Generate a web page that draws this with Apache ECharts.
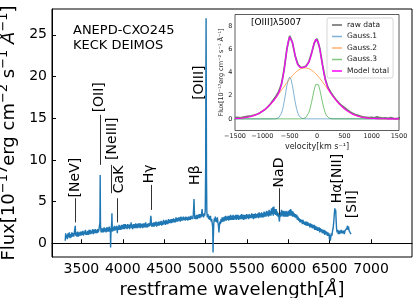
<!DOCTYPE html>
<html><head><meta charset="utf-8">
<script src="https://cdn.jsdelivr.net/npm/echarts@6/dist/echarts.min.js"></script>
<style>html,body{margin:0;padding:0;background:#fff}#c{width:416px;height:298px}</style>
</head><body><div id="c"></div>
<script>
// ---------- main spectrum (restframe wavelength [Å], flux) ----------
const spectrum = [[3305,0.3],[3310,1.2],[3316,0.6],[3322,1.0],[3330,0.5],[3338,1.2],[3346,0.7],[3355,1.3],[3363,0.6],[3370,1.1],[3378,0.7],[3385,1.3],[3393,0.8],[3400,1.2],[3408,0.8],[3415,1.3],[3421,1.1],[3426,2.1],[3431,0.9],[3438,1.3],[3446,0.8],[3455,1.4],[3465,0.8],[3473,1.3],[3480,0.9],[3488,1.4],[3495,0.9],[3503,1.4],[3510,1.0],[3518,1.5],[3525,0.9],[3533,1.4],[3540,1.1],[3548,1.6],[3555,1.0],[3563,1.4],[3570,1.0],[3578,1.5],[3585,1.0],[3593,1.6],[3600,1.1],[3608,1.6],[3615,1.1],[3623,1.5],[3630,1.2],[3638,1.7],[3645,1.1],[3653,1.6],[3660,1.2],[3668,1.7],[3675,1.2],[3683,1.6],[3690,1.2],[3698,1.7],[3705,1.3],[3712,1.6],[3718,1.4],[3724,2.5],[3727,8.2],[3731,2.2],[3738,1.3],[3745,1.8],[3752,1.3],[3760,1.8],[3767,1.3],[3775,1.9],[3782,1.4],[3790,1.8],[3797,1.3],[3805,1.9],[3812,1.4],[3820,1.9],[3828,1.4],[3838,2.0],[3845,1.4],[3850,1.8],[3853,-0.5],[3857,1.2],[3863,2.0],[3867,2.6],[3869,3.6],[3872,2.2],[3876,1.4],[3883,1.9],[3890,1.5],[3898,2.1],[3905,1.5],[3912,2.0],[3920,1.6],[3927,2.1],[3934,1.2],[3940,2.0],[3948,1.6],[3955,2.2],[3962,1.6],[3970,2.1],[3977,1.6],[3985,2.2],[3992,1.7],[4000,2.2],[4008,1.7],[4015,2.3],[4023,1.7],[4030,2.3],[4038,1.8],[4045,2.2],[4053,1.7],[4060,2.3],[4068,1.8],[4075,2.2],[4083,1.7],[4090,2.3],[4096,1.9],[4101,2.5],[4106,1.8],[4112,2.2],[4120,1.7],[4127,2.3],[4135,1.8],[4142,2.3],[4150,1.8],[4157,2.4],[4165,1.8],[4172,2.3],[4180,1.8],[4187,2.4],[4195,1.9],[4202,2.4],[4210,1.8],[4217,2.4],[4225,1.9],[4232,2.3],[4240,1.8],[4247,2.4],[4255,1.9],[4262,2.4],[4270,1.9],[4277,2.5],[4285,1.9],[4292,2.3],[4300,1.9],[4307,2.4],[4315,2.0],[4322,2.4],[4330,2.1],[4335,2.8],[4340,3.3],[4345,2.6],[4350,2.0],[4358,2.4],[4365,2.0],[4373,2.5],[4380,2.0],[4388,2.5],[4395,2.1],[4403,2.6],[4410,2.0],[4418,2.5],[4425,2.1],[4433,2.6],[4440,2.1],[4448,2.6],[4455,2.2],[4463,2.7],[4470,2.1],[4478,2.6],[4485,2.2],[4493,2.8],[4500,2.3],[4508,2.7],[4515,2.2],[4523,2.8],[4530,2.3],[4538,2.7],[4545,2.3],[4553,2.9],[4560,2.4],[4568,2.8],[4575,2.4],[4583,2.9],[4590,2.4],[4598,2.9],[4605,2.5],[4613,3.0],[4620,2.5],[4628,2.9],[4635,2.5],[4643,3.1],[4650,2.6],[4658,3.0],[4665,2.6],[4673,3.1],[4680,2.7],[4688,3.1],[4695,2.6],[4703,3.2],[4710,2.7],[4718,3.1],[4725,2.7],[4733,3.2],[4740,2.8],[4748,3.1],[4755,2.7],[4763,3.2],[4770,2.8],[4778,3.1],[4785,2.7],[4793,3.2],[4800,2.8],[4808,3.2],[4815,2.8],[4823,3.3],[4830,2.9],[4838,3.2],[4845,2.9],[4852,3.4],[4857,4.3],[4861,5.3],[4865,4.0],[4870,2.9],[4878,3.3],[4885,2.9],[4893,3.4],[4900,2.9],[4908,3.4],[4915,3.0],[4923,3.5],[4930,3.0],[4938,3.5],[4945,3.1],[4952,3.5],[4959,4.1],[4964,3.2],[4970,3.5],[4977,3.1],[4984,3.6],[4990,3.3],[4997,3.9],[5002,9.5],[5005,22],[5007,27.0],[5009,20],[5012,8.0],[5016,3.8],[5022,3.1],[5030,3.5],[5038,2.9],[5045,3.3],[5053,2.8],[5060,3.3],[5068,2.6],[5075,2.9],[5082,2.3],[5087,1.9],[5091,-1.1],[5095,0.8],[5100,2.4],[5106,3.0],[5112,2.6],[5118,3.2],[5125,2.6],[5131,3.0],[5137,2.5],[5143,3.1],[5150,2.5],[5156,2.1],[5162,1.3],[5167,2.0],[5173,2.6],[5180,2.3],[5187,2.9],[5194,2.5],[5201,3.1],[5208,2.6],[5215,3.1],[5222,2.6],[5229,3.2],[5236,2.7],[5243,3.3],[5250,2.7],[5258,3.2],[5265,2.8],[5273,3.3],[5280,2.7],[5288,3.3],[5295,2.8],[5303,3.4],[5310,2.8],[5318,3.3],[5325,2.8],[5333,3.4],[5340,2.8],[5348,3.3],[5355,2.9],[5363,3.4],[5370,2.8],[5378,3.4],[5385,2.9],[5393,3.4],[5400,2.8],[5408,3.3],[5415,2.9],[5423,3.4],[5430,2.9],[5438,3.5],[5445,2.9],[5453,3.4],[5460,2.8],[5468,3.4],[5475,2.9],[5483,3.4],[5490,2.9],[5498,3.5],[5505,3.0],[5513,3.4],[5520,2.9],[5528,3.5],[5535,3.0],[5543,3.4],[5550,3.0],[5558,3.6],[5565,3.0],[5573,3.5],[5580,2.9],[5588,3.5],[5595,3.0],[5603,3.6],[5610,3.0],[5618,3.5],[5625,3.1],[5633,3.6],[5640,3.0],[5648,3.7],[5655,3.1],[5663,3.6],[5670,3.1],[5678,3.7],[5685,3.1],[5693,3.6],[5700,3.1],[5708,3.8],[5715,3.2],[5723,3.7],[5730,3.2],[5738,3.9],[5745,3.3],[5753,3.8],[5760,3.2],[5768,4.0],[5775,3.3],[5783,3.9],[5790,3.3],[5798,4.2],[5805,3.5],[5812,4.3],[5819,3.3],[5826,4.4],[5833,3.5],[5840,4.1],[5847,3.4],[5854,4.1],[5861,3.3],[5868,3.8],[5875,3.2],[5882,3.6],[5888,3.0],[5893,2.6],[5898,3.3],[5905,3.7],[5911,3.2],[5918,4.0],[5925,3.3],[5932,3.9],[5939,3.2],[5946,3.9],[5953,3.2],[5960,3.8],[5967,3.2],[5974,3.9],[5981,3.2],[5988,3.8],[5995,3.2],[6002,3.9],[6009,3.3],[6016,4.0],[6023,3.3],[6030,4.1],[6037,3.3],[6044,3.9],[6051,3.2],[6058,3.8],[6065,3.2],[6072,3.6],[6080,3.1],[6088,3.5],[6095,3.0],[6103,3.4],[6110,2.8],[6118,3.2],[6125,2.7],[6133,3.0],[6140,2.5],[6148,2.9],[6155,2.5],[6163,2.8],[6170,2.3],[6178,2.8],[6185,2.3],[6193,2.6],[6200,2.2],[6208,2.6],[6215,2.1],[6223,2.6],[6230,2.1],[6238,2.5],[6245,2.1],[6253,2.4],[6260,1.9],[6268,2.4],[6275,1.9],[6283,2.3],[6290,1.8],[6298,2.2],[6305,1.8],[6313,2.2],[6320,1.6],[6328,2.1],[6335,1.6],[6343,2.0],[6350,1.5],[6358,1.9],[6365,1.5],[6373,1.9],[6380,1.3],[6388,1.8],[6395,1.4],[6403,1.7],[6410,1.2],[6418,1.6],[6425,1.2],[6433,1.6],[6440,1.0],[6448,1.5],[6455,1.1],[6463,1.4],[6470,0.9],[6478,1.3],[6485,0.9],[6492,1.2],[6497,0.5],[6503,1.0],[6508,0.3],[6511,0.1],[6515,0.8],[6521,1.2],[6528,0.9],[6535,1.5],[6542,1.8],[6550,2.6],[6557,3.6],[6563,4.2],[6568,3.7],[6573,4.0],[6578,2.8],[6584,1.7],[6590,1.3],[6597,1.6],[6604,1.1],[6611,1.5],[6618,1.1],[6625,1.5],[6632,1.2],[6640,1.6],[6647,1.2],[6655,1.5],[6662,1.2],[6670,1.5],[6677,1.1],[6685,1.5],[6692,1.3],[6700,1.6],[6708,1.8],[6716,2.1],[6722,1.6],[6728,2.0],[6735,1.5],[6742,1.3],[6750,1.4],[6758,1.1]];

const xTicks = [3500, 4000, 4500, 5000, 5500, 6000, 6500, 7000];
const yTicks = [0, 5, 10, 15, 20, 25];

// emission / absorption line annotations
const lineNames = ['[NeV]', '[OII]', '[NeIII]', 'CaK', 'Hγ', 'Hβ', '[OIII]', 'NaD', 'Hα[NII]', '[SII]'];
const lineWaves = [3426, 3727, 3869, 3934, 4340, 4861, 5007, 5893, 6563, 6724];

// ---------- inset: [OIII]5007 profile (velocity km/s, flux) ----------
const rawData = [[-1500,0.10],[-1450,0.12],[-1400,0.09],[-1350,0.16],[-1300,0.20],[-1250,0.24],[-1200,0.27],[-1150,0.33],[-1100,0.40],[-1050,0.50],[-1000,0.66],[-950,0.82],[-900,1.03],[-850,1.30],[-800,1.62],[-750,1.95],[-700,2.35],[-650,3.00],[-600,4.30],[-550,6.05],[-500,7.15],[-450,6.60],[-400,5.45],[-350,4.70],[-300,4.45],[-250,4.45],[-200,4.55],[-150,4.90],[-100,5.65],[-50,6.55],[0,6.90],[50,6.10],[100,4.70],[150,3.45],[200,2.70],[250,2.30],[300,1.95],[350,1.65],[400,1.38],[450,1.15],[500,0.98],[550,0.80],[600,0.62],[650,0.48],[700,0.38],[750,0.30],[800,0.22],[850,0.17],[900,0.14],[950,0.10],[1000,0.12],[1050,0.09],[1100,0.18],[1150,0.10],[1200,0.06],[1250,0.08],[1300,0.04],[1350,0.10],[1400,0.05],[1450,0.03],[1500,0.06]];
const gauss1 = [[-1500,0],[-800,0.001],[-775,0.004],[-750,0.014],[-725,0.04],[-700,0.103],[-675,0.237],[-650,0.487],[-625,0.898],[-600,1.48],[-575,2.184],[-550,2.882],[-525,3.406],[-500,3.6],[-475,3.406],[-450,2.882],[-425,2.184],[-400,1.48],[-375,0.898],[-350,0.487],[-325,0.237],[-300,0.103],[-275,0.04],[-250,0.014],[-225,0.004],[-200,0.001],[1500,0]];
const gauss2 = [[-1500,0.026],[-1450,0.039],[-1400,0.057],[-1350,0.081],[-1300,0.115],[-1250,0.160],[-1200,0.219],[-1150,0.295],[-1100,0.391],[-1050,0.511],[-1000,0.657],[-950,0.832],[-900,1.037],[-850,1.273],[-800,1.538],[-750,1.829],[-700,2.142],[-650,2.469],[-600,2.803],[-550,3.132],[-500,3.444],[-450,3.729],[-400,3.976],[-350,4.174],[-300,4.313],[-250,4.388],[-200,4.394],[-150,4.333],[-100,4.206],[-50,4.020],[0,3.782],[50,3.503],[100,3.195],[150,2.869],[200,2.535],[250,2.206],[300,1.890],[350,1.594],[400,1.324],[450,1.082],[500,0.871],[550,0.690],[600,0.538],[650,0.413],[700,0.312],[750,0.233],[800,0.170],[850,0.123],[900,0.087],[950,0.061],[1000,0.042],[1050,0.028],[1100,0.019],[1150,0.012],[1200,0.008],[1250,0.005],[1300,0.003],[1350,0.002],[1400,0.001],[1450,0.001],[1500,0]];
const gauss3 = [[-1500,0],[-300,0.003],[-275,0.008],[-250,0.023],[-225,0.059],[-200,0.136],[-175,0.283],[-150,0.535],[-125,0.915],[-100,1.419],[-75,1.998],[-50,2.551],[-25,2.952],[0,3.1],[25,2.952],[50,2.551],[75,1.998],[100,1.419],[125,0.915],[150,0.535],[175,0.283],[200,0.136],[225,0.059],[250,0.023],[275,0.008],[300,0.003],[1500,0]];
const modelTotal = [[-1500,0.03],[-1450,0.04],[-1400,0.06],[-1350,0.08],[-1300,0.12],[-1250,0.16],[-1200,0.22],[-1150,0.30],[-1100,0.39],[-1050,0.51],[-1000,0.66],[-950,0.83],[-900,1.04],[-850,1.27],[-800,1.54],[-775,1.68],[-750,1.84],[-725,2.02],[-700,2.25],[-675,2.54],[-650,2.96],[-625,3.54],[-600,4.28],[-575,5.15],[-550,6.01],[-525,6.70],[-500,7.04],[-475,7.00],[-450,6.61],[-425,6.04],[-400,5.46],[-375,4.98],[-350,4.66],[-325,4.49],[-300,4.42],[-275,4.40],[-250,4.43],[-225,4.46],[-200,4.53],[-175,4.65],[-150,4.87],[-125,5.19],[-100,5.63],[-75,6.12],[-50,6.57],[-25,6.86],[0,6.88],[25,6.60],[50,6.05],[75,5.35],[100,4.61],[125,3.95],[150,3.40],[175,2.98],[200,2.67],[225,2.43],[250,2.23],[275,2.06],[300,1.89],[350,1.59],[400,1.32],[450,1.08],[500,0.87],[550,0.69],[600,0.54],[650,0.41],[700,0.31],[750,0.23],[800,0.17],[850,0.12],[900,0.09],[950,0.06],[1000,0.04],[1050,0.03],[1100,0.02],[1150,0.01],[1200,0.01],[1250,0.01],[1300,0],[1400,0],[1500,0]];
const insetXTicks = [-1500, -1000, -500, 0, 500, 1000, 1500];
const insetYTicks = [0, 2, 4, 6, 8];
const seriesNames = ['raw data', 'Gauss.1', 'Gauss.2', 'Gauss.3', 'Model total'];

// ---------- layout / style ----------
const FONT = 'DejaVu Sans';
const chart = echarts.init(document.getElementById('c'), null, {renderer: 'canvas'});

const insetAxisLabel = {fontFamily: FONT, fontSize: 6.5, color: '#222'};
const bigRich = {
  i: {fontFamily: FONT, fontSize: 18, fontStyle: 'italic', color: '#000', lineHeight: 24},
  s: {fontFamily: FONT, fontSize: 13, color: '#000', verticalAlign: 'top', lineHeight: 12},
  n: {fontFamily: FONT, fontSize: 18, color: '#000', lineHeight: 24}
};
const option = {
  animation: false,
  backgroundColor: '#fff',
  grid: [
    {left: 52, top: 9, right: 4, bottom: 41, show: true, borderColor: '#000', borderWidth: 1, backgroundColor: 'transparent', containLabel: false, outerBoundsMode: 'none'},
    {left: 235, top: 14.5, right: 17, bottom: 167.5, show: true, borderColor: '#333', borderWidth: 0.8, backgroundColor: '#fff', containLabel: false, outerBoundsMode: 'none', z: 5}
  ],
  xAxis: [
    {type: 'value', gridIndex: 0, min: 3145, max: 7495,
     axisLine: {show: true, lineStyle: {color: '#000', width: 1}},
     axisTick: {show: true, inside: true, length: 4, lineStyle: {color: '#000'}, customValues: xTicks},
     axisLabel: {show: true, fontFamily: FONT, fontSize: 14, color: '#000', margin: 5, customValues: xTicks, formatter: v => String(v)},
     splitLine: {show: false},
     name: '{n|restframe wavelength[}{i|Å}{n|]}', nameLocation: 'middle', nameGap: 20,
     nameTextStyle: {fontFamily: FONT, fontSize: 18, color: '#000', rich: bigRich}},
    {type: 'value', gridIndex: 1, min: -1500, max: 1500, interval: 500,
     axisLine: {show: true, lineStyle: {color: '#333', width: 0.8}},
     axisTick: {show: true, inside: true, length: 2, lineStyle: {color: '#333', width: 0.6}, customValues: insetXTicks},
     axisLabel: Object.assign({margin: 2.5, customValues: insetXTicks, formatter: v => String(v).replace('-', '−')}, insetAxisLabel),
     splitLine: {show: false},
     name: 'velocity[km s⁻¹]', nameLocation: 'middle', nameGap: 12,
     nameTextStyle: {fontFamily: FONT, fontSize: 8, color: '#222'}}
  ],
  yAxis: [
    {type: 'value', gridIndex: 0, min: -1.65, max: 28.1,
     axisLine: {show: true, lineStyle: {color: '#000', width: 1}},
     axisTick: {show: true, inside: true, length: 4, lineStyle: {color: '#000'}, customValues: yTicks},
     axisLabel: {show: true, fontFamily: FONT, fontSize: 14, color: '#000', margin: 5, customValues: yTicks},
     splitLine: {show: false},
     name: '{n|Flux[10}{s|−17}{n|erg cm}{s|−2}{n| s}{s|−1}{n| }{i|Å}{s|−1}{n|]}', nameLocation: 'middle', nameGap: 14, nameRotate: 90,
     nameTextStyle: {fontFamily: FONT, fontSize: 18, color: '#000', rich: bigRich}},
    {type: 'value', gridIndex: 1, min: -1, max: 9,
     axisLine: {show: true, lineStyle: {color: '#333', width: 0.8}},
     axisTick: {show: true, inside: true, length: 2, lineStyle: {color: '#333', width: 0.6}, customValues: insetYTicks},
     axisLabel: Object.assign({margin: 2.5, customValues: insetYTicks}, insetAxisLabel),
     splitLine: {show: false},
     name: 'Flux[10⁻¹⁷erg cm⁻² s⁻¹ Å⁻¹]', nameLocation: 'middle', nameGap: 8, nameRotate: 90,
     nameTextStyle: {fontFamily: FONT, fontSize: 6.5, color: '#222'}}
  ],
  legend: {
    show: true, orient: 'vertical', left: 327, top: 18,
    data: seriesNames, icon: 'rect', itemWidth: 10, itemHeight: 1.5, itemGap: 3.5,
    padding: [3, 4, 3, 5], backgroundColor: '#fff', borderColor: '#ccc', borderWidth: 0.8, borderRadius: 2,
    textStyle: {fontFamily: FONT, fontSize: 7.5, color: '#222', lineHeight: 8}, z: 10
  },
  series: [
    {type: 'line', name: 'spectrum', xAxisIndex: 0, yAxisIndex: 0, data: spectrum, symbol: 'none',
     lineStyle: {color: '#1f77b4', width: 1.4}, itemStyle: {color: '#1f77b4'}, z: 2},
    {type: 'line', name: seriesNames[0], xAxisIndex: 1, yAxisIndex: 1, data: rawData, symbol: 'none',
     lineStyle: {color: '#777', width: 1.8}, itemStyle: {color: '#666'}, z: 6},
    {type: 'line', name: seriesNames[1], xAxisIndex: 1, yAxisIndex: 1, data: gauss1, symbol: 'none',
     lineStyle: {color: '#1f77b4', width: 0.8, opacity: 0.7}, itemStyle: {color: '#7fb0d8'}, z: 7},
    {type: 'line', name: seriesNames[2], xAxisIndex: 1, yAxisIndex: 1, data: gauss2, symbol: 'none',
     lineStyle: {color: '#ff7f0e', width: 0.8, opacity: 0.8}, itemStyle: {color: '#ffb070'}, z: 7},
    {type: 'line', name: seriesNames[3], xAxisIndex: 1, yAxisIndex: 1, data: gauss3, symbol: 'none',
     lineStyle: {color: '#2ca02c', width: 0.8, opacity: 0.8}, itemStyle: {color: '#80c880'}, z: 7},
    {type: 'line', name: seriesNames[4], xAxisIndex: 1, yAxisIndex: 1, data: modelTotal, symbol: 'none',
     lineStyle: {color: '#ff00ff', width: 1.1}, itemStyle: {color: '#ff00ff'}, z: 8}
  ]
};
chart.setOption(option);

// annotation layout (data-space positions of the label text bottom and of the tick line)
const labelTextWave = [3426, 3721, 3880, 3964, 4327, 4872, 4920, 5893, 6591, 6772];
const labelTextBottom = [5.5, 15.7, 10.0, 6.0, 7.2, 7.0, 17.2, 6.7, 4.8, 3.0];
const labelLineWave = [3426, 3727, 3860, 3925, 4340, null, null, 5893, null, null];
const labelLineY = [[2.5, 5.4], [9.4, 15.4], [6.0, 9.4], [2.5, 5.4], [4.0, 7.0], null, null, [3.4, 6.6], null, null];

const graphics = [];
lineNames.forEach((name, i) => {
  const p = chart.convertToPixel({gridIndex: 0}, [labelTextWave[i], labelTextBottom[i]]);
  graphics.push({type: 'text', x: p[0], y: p[1], rotation: Math.PI / 2, z: 20,
    style: {text: name, font: '14px "' + FONT + '"', fill: '#000', align: 'left', verticalAlign: 'middle'}});
  if (labelLineWave[i] !== null) {
    const a = chart.convertToPixel({gridIndex: 0}, [labelLineWave[i], labelLineY[i][0]]);
    const b = chart.convertToPixel({gridIndex: 0}, [labelLineWave[i], labelLineY[i][1]]);
    graphics.push({type: 'line', z: 20, shape: {x1: Math.round(a[0]) + 0.5, y1: a[1], x2: Math.round(b[0]) + 0.5, y2: b[1]},
      style: {stroke: '#333', lineWidth: 1}});
  }
});
graphics.push({type: 'text', x: 73, y: 31, z: 20, style: {text: 'ANEPD-CXO245', font: '13px "' + FONT + '"', fill: '#000', verticalAlign: 'middle'}});
graphics.push({type: 'text', x: 73, y: 46, z: 20, style: {text: 'KECK DEIMOS', font: '13px "' + FONT + '"', fill: '#000', verticalAlign: 'middle'}});
graphics.push({type: 'text', x: 251, y: 22.5, z: 20, style: {text: '[OIII]λ5007', font: '9px "' + FONT + '"', fill: '#000', verticalAlign: 'middle'}});
chart.setOption({graphic: graphics});
</script>
</body></html>
